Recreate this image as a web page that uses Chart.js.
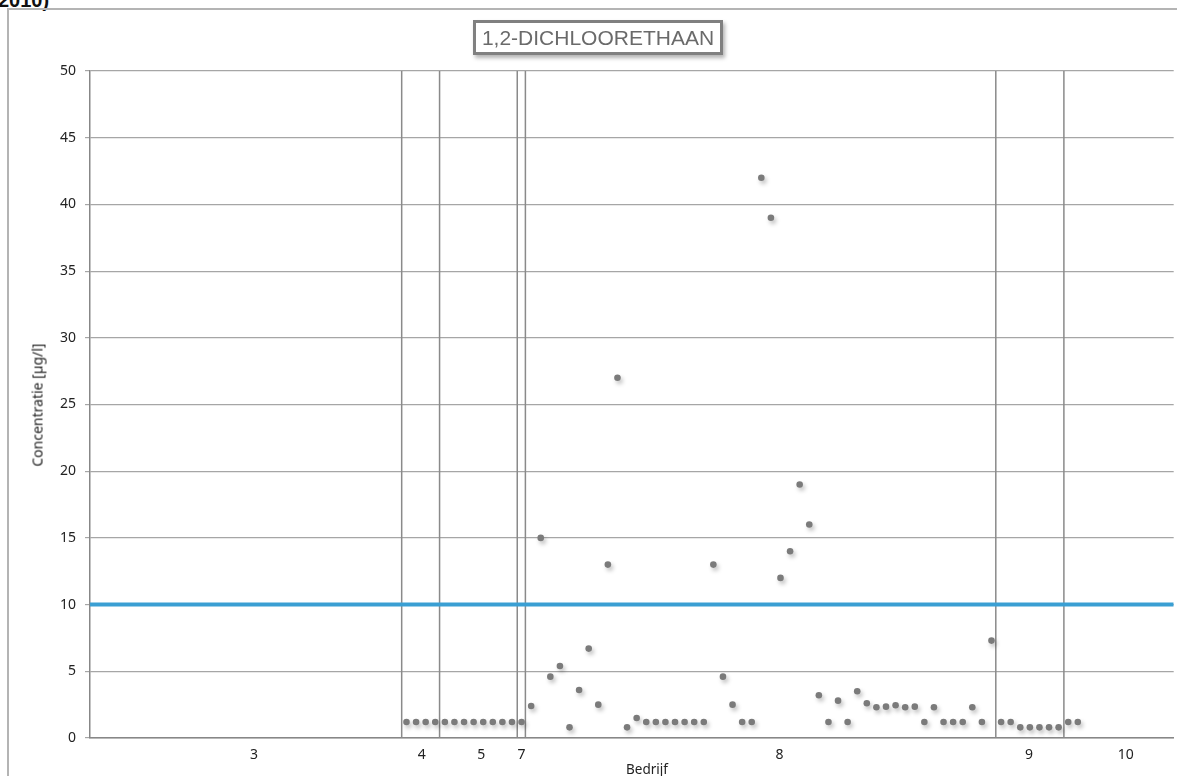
<!DOCTYPE html>
<html>
<head>
<meta charset="utf-8">
<script src="https://cdn.jsdelivr.net/npm/chart.js@4.4.1/dist/chart.umd.min.js"></script>
<style>
  html, body { margin: 0; padding: 0; background: #fff; overflow: hidden; }
  #wrap { position: relative; width: 1177px; height: 776px; overflow: hidden; font-family: "Noto Sans", sans-serif; }
  #frame { position: absolute; left: 7px; top: 8px; width: 1400px; height: 900px; border: 2px solid #b4b4b4; box-sizing: border-box; }
  #cut { position: absolute; left: -2px; top: -10px; font: bold 20px "Liberation Sans", sans-serif; color: #111; line-height: 1; }
  #title { position: absolute; left: 473px; top: 20px; width: 250px; height: 35px; box-sizing: border-box;
    border: 3px solid #808080; background: #fff; color: #6a6a6a; font: 21px "Liberation Sans", sans-serif;
    text-align: center; line-height: 29px; box-shadow: 2px 3px 4px rgba(0,0,0,0.3); white-space: nowrap; }
  #ytitle { position: absolute; left: 37px; top: 405px; transform: translate(-50%, -50%) rotate(-90deg);
    font-size: 14px; color: #222; white-space: nowrap; }
  #xtitle { position: absolute; left: 647px; top: 769px; transform: translate(-50%, -50%); font-size: 13.5px; color: #222; }
  canvas { position: absolute; left: 0; top: 0; }
</style>
</head>
<body>
<div id="wrap">
  <div id="cut">2010)</div>
  <div id="frame"></div>
  <canvas id="chart" width="1177" height="776"></canvas>
  <div id="title">1,2-DICHLOORETHAAN</div>
  <div id="ytitle">Concentratie [µg/l]</div>
  <div id="xtitle">Bedrijf</div>
</div>
<script>
  // meetwaarden per monster (µg/l), eerste monster op categorie 33
  var conc = [
    1.2, 1.2, 1.2, 1.2, 1.2, 1.2, 1.2, 1.2, 1.2, 1.2, 1.2, 1.2, 1.2,
    2.4, 15, 4.6, 5.4, 0.8, 3.6, 6.7, 2.5, 13, 27, 0.8, 1.5,
    1.2, 1.2, 1.2, 1.2, 1.2, 1.2, 1.2,
    13, 4.6, 2.5, 1.2, 1.2, 42, 39, 12, 14, 19, 16, 3.2, 1.2, 2.8, 1.2, 3.5,
    2.6, 2.3, 2.35, 2.45, 2.3, 2.35, 1.2, 2.3, 1.2, 1.2, 1.2, 2.3, 1.2, 7.3,
    1.2, 1.2, 0.8, 0.8, 0.8, 0.8, 0.8, 1.2, 1.2
  ];
  var firstIdx = 33;
  var xMax = 113;
  var separators = [32.5, 36.45, 44.55, 45.4, 94.45, 101.55];
  var tickPos = [17.1, 34.6, 40.8, 45, 71.9, 97.9, 108];
  var tickLabels = ["3", "4", "5", "7", "8", "9", "10"];
  var norm = 10;
  var yMax = 50, yStep = 5;

  var points = conc.map(function (v, i) { return { x: firstIdx + i, y: v }; });

  var datasets = [
    { label: "meting", data: points, showLine: false, pointRadius: 3.3, pointHoverRadius: 3.3,
      pointBackgroundColor: "#7b7b7b", pointBorderWidth: 0, borderColor: "#7b7b7b" },
    { label: "norm", data: [{ x: 0, y: norm }, { x: xMax, y: norm }], borderColor: "#3a9fd3",
      borderWidth: 4, pointRadius: 0 }
  ];
  separators.forEach(function (s) {
    datasets.push({ label: "scheiding", data: [{ x: s, y: 0 }, { x: s, y: yMax }],
      borderColor: "#8a8a8a", borderWidth: 1.5, pointRadius: 0 });
  });

  var shadow = {
    id: "shadow",
    beforeDatasetDraw: function (chart, args) {
      if (chart.data.datasets[args.index].label !== "meting") return;
      var ctx = chart.ctx;
      ctx.save();
      ctx.shadowColor = "rgba(0,0,0,0.25)";
      ctx.shadowBlur = 4;
      ctx.shadowOffsetX = 2;
      ctx.shadowOffsetY = 3;
    },
    afterDatasetDraw: function (chart, args) {
      if (chart.data.datasets[args.index].label !== "meting") return;
      chart.ctx.restore();
    }
  };

  new Chart(document.getElementById("chart"), {
    type: "line",
    data: { datasets: datasets },
    plugins: [shadow],
    options: {
      responsive: false,
      animation: false,
      layout: { padding: { left: 0, top: 71, right: 3, bottom: 0 } },
      plugins: { legend: { display: false }, tooltip: { enabled: false } },
      scales: {
        x: {
          type: "linear", min: 0, max: xMax,
          grid: { display: false },
          border: { display: true, color: "#878787", width: 1.5 },
          afterBuildTicks: function (s) { s.ticks = tickPos.map(function (v) { return { value: v }; }); },
          afterFit: function (s) { s.height = 38; },
          ticks: {
            autoSkip: false, maxRotation: 0, padding: 1, color: "#222",
            font: { family: "Noto Sans", size: 14 },
            callback: function (v) { return tickLabels[tickPos.indexOf(v)]; }
          }
        },
        y: {
          min: 0, max: yMax,
          grid: { color: "#a6a6a6", lineWidth: 1.2, tickLength: 5 },
          border: { display: true, color: "#878787", width: 1.5 },
          afterFit: function (s) { s.width = 90; },
          ticks: { stepSize: yStep, padding: 9, color: "#222", font: { family: "Noto Sans", size: 14 } }
        }
      }
    }
  });
</script>
</body>
</html>
